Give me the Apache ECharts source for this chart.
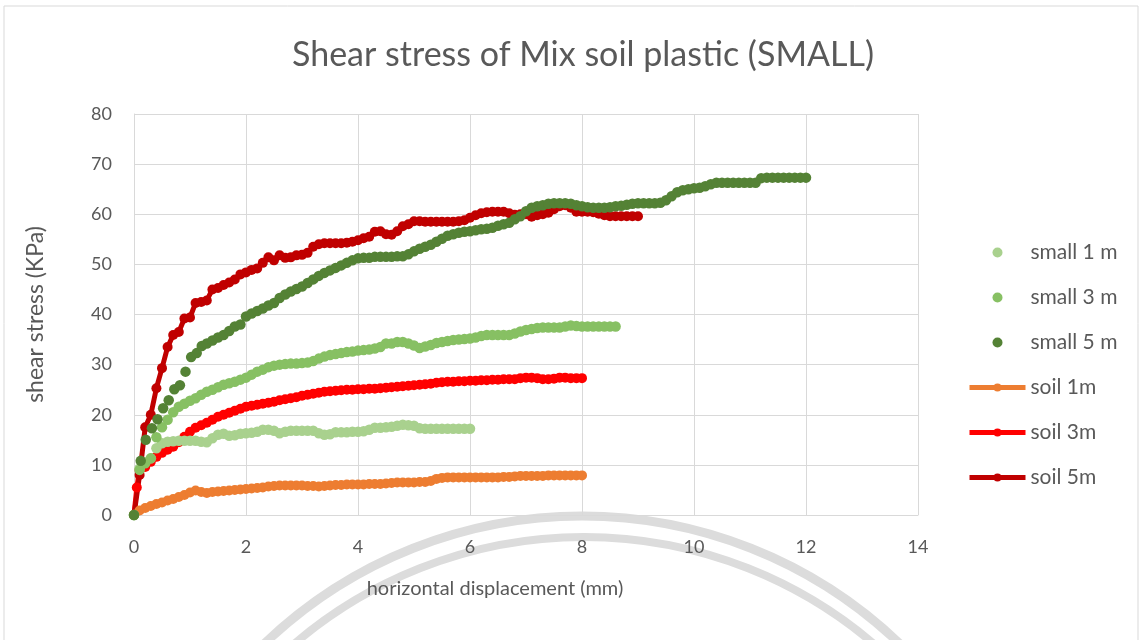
<!DOCTYPE html>
<html>
<head>
<meta charset="utf-8">
<title>Shear stress of Mix soil plastic (SMALL)</title>
<script src="https://cdn.jsdelivr.net/npm/echarts@6/dist/echarts.min.js"></script>
<style>
  html, body { margin: 0; padding: 0; background: #fff; }
  #chart { width: 1143px; height: 640px; }
</style>
</head>
<body>
<div id="chart"></div>
<script>
// horizontal displacement (mm) vs shear stress (KPa)
const xTicks = [0, 2, 4, 6, 8, 10, 12, 14];
const yTicks = [0, 10, 20, 30, 40, 50, 60, 70, 80];

const small1m = [
  [0,0],[0.1,9.3],[0.2,10.5],[0.3,11.3],[0.4,13.3],[0.5,14.3],[0.6,14.6],[0.7,14.7],[0.8,14.8],[0.9,14.8],
  [1.0,14.8],[1.1,14.8],[1.2,14.6],[1.3,14.5],[1.4,15.3],[1.5,16.0],[1.6,16.2],[1.7,15.8],[1.8,15.9],[1.9,16.2],
  [2.0,16.3],[2.1,16.4],[2.2,16.6],[2.3,17.0],[2.4,17.0],[2.5,16.8],[2.6,16.3],[2.7,16.6],[2.8,16.8],[2.9,16.8],
  [3.0,16.8],[3.1,16.8],[3.2,16.8],[3.3,16.3],[3.4,16.0],[3.5,16.1],[3.6,16.5],[3.7,16.5],[3.8,16.5],[3.9,16.6],
  [4.0,16.6],[4.1,16.7],[4.2,17.0],[4.3,17.4],[4.4,17.4],[4.5,17.5],[4.6,17.6],[4.7,17.8],[4.8,18.0],[4.9,17.9],
  [5.0,17.8],[5.1,17.3],[5.2,17.2],[5.3,17.2],[5.4,17.2],[5.5,17.2],[5.6,17.2],[5.7,17.2],[5.8,17.2],[5.9,17.2],
  [6.0,17.2]
];

const small3m = [
  [0,0],[0.1,9.0],[0.2,10.3],[0.3,11.3],[0.4,15.5],[0.5,17.5],[0.6,19.0],[0.7,20.5],[0.8,21.6],[0.9,22.2],
  [1.0,22.8],[1.1,23.3],[1.2,24.0],[1.3,24.6],[1.4,25.0],[1.5,25.5],[1.6,26.0],[1.7,26.3],[1.8,26.6],[1.9,27.0],
  [2.0,27.4],[2.1,28.0],[2.2,28.6],[2.3,29.0],[2.4,29.5],[2.5,29.8],[2.6,30.0],[2.7,30.1],[2.8,30.2],[2.9,30.2],
  [3.0,30.3],[3.1,30.4],[3.2,30.7],[3.3,31.2],[3.4,31.6],[3.5,31.9],[3.6,32.1],[3.7,32.3],[3.8,32.5],[3.9,32.6],
  [4.0,32.8],[4.1,32.9],[4.2,33.0],[4.3,33.2],[4.4,33.5],[4.5,34.2],[4.6,34.2],[4.7,34.5],[4.8,34.5],[4.9,34.2],
  [5.0,33.8],[5.1,33.3],[5.2,33.6],[5.3,33.9],[5.4,34.3],[5.5,34.5],[5.6,34.7],[5.7,34.9],[5.8,35.0],[5.9,35.1],
  [6.0,35.2],[6.1,35.4],[6.2,35.7],[6.3,35.9],[6.4,35.9],[6.5,35.9],[6.6,35.9],[6.7,35.9],[6.8,36.2],[6.9,36.6],
  [7.0,36.9],[7.1,37.1],[7.2,37.3],[7.3,37.4],[7.4,37.4],[7.5,37.4],[7.6,37.4],[7.7,37.6],[7.8,37.8],[7.9,37.7],
  [8.0,37.6],[8.1,37.6],[8.2,37.6],[8.3,37.6],[8.4,37.6],[8.5,37.6],[8.6,37.6]
];

const small5m = [
  [0,0],[0.12,10.8],[0.21,15.0],[0.32,17.3],[0.42,19.1],[0.52,21.3],[0.62,22.9],[0.72,25.1],[0.82,25.9],[0.92,28.6],
  [1.02,31.5],[1.12,32.3],[1.21,33.7],[1.3,34.2],[1.4,34.8],[1.5,35.4],[1.6,35.9],[1.7,36.7],[1.8,37.6],[1.9,38.0],
  [2.0,39.6],[2.1,40.2],[2.2,40.7],[2.3,41.2],[2.4,41.8],[2.5,42.3],[2.6,43.3],[2.7,44.0],[2.8,44.6],[2.9,45.1],
  [3.0,45.6],[3.1,46.3],[3.2,47.0],[3.3,47.7],[3.4,48.3],[3.5,48.8],[3.6,49.3],[3.7,49.8],[3.8,50.3],[3.9,50.8],
  [4.0,51.2],[4.1,51.3],[4.2,51.3],[4.3,51.5],[4.4,51.5],[4.5,51.5],[4.6,51.5],[4.7,51.6],[4.8,51.6],[4.9,52.0],
  [5.0,52.6],[5.1,53.1],[5.2,53.5],[5.3,53.9],[5.4,54.5],[5.5,55.1],[5.6,55.7],[5.7,56.0],[5.8,56.3],[5.9,56.5],
  [6.0,56.6],[6.1,56.8],[6.2,57.0],[6.3,57.1],[6.4,57.3],[6.5,57.7],[6.6,58.0],[6.7,58.3],[6.8,59.0],[6.9,59.6],
  [7.0,60.6],[7.1,61.3],[7.2,61.6],[7.3,61.8],[7.4,62.1],[7.5,62.2],[7.6,62.2],[7.7,62.2],[7.8,62.1],[7.9,61.8],
  [8.0,61.6],[8.1,61.4],[8.2,61.3],[8.3,61.3],[8.4,61.3],[8.5,61.4],[8.6,61.6],[8.7,61.7],[8.8,61.9],[8.9,62.1],
  [9.0,62.2],[9.1,62.2],[9.2,62.2],[9.3,62.2],[9.4,62.3],[9.5,62.8],[9.6,63.6],[9.7,64.4],[9.8,64.8],[9.9,65.0],
  [10.0,65.2],[10.1,65.3],[10.2,65.6],[10.3,66.0],[10.4,66.3],[10.5,66.3],[10.6,66.3],[10.7,66.3],[10.8,66.3],[10.9,66.3],
  [11.0,66.3],[11.1,66.3],[11.2,67.2],[11.3,67.3],[11.4,67.3],[11.5,67.3],[11.6,67.3],[11.7,67.3],[11.8,67.3],[11.9,67.3],
  [12.0,67.3]
];

const soil1m = [
  [0,0],[0.1,0.9],[0.2,1.4],[0.3,1.8],[0.4,2.2],[0.5,2.5],[0.6,2.9],[0.7,3.2],[0.8,3.6],[0.9,4.0],
  [1.0,4.5],[1.1,4.9],[1.2,4.6],[1.3,4.4],[1.4,4.6],[1.5,4.7],[1.6,4.8],[1.7,4.9],[1.8,5.0],[1.9,5.1],
  [2.0,5.2],[2.1,5.3],[2.2,5.4],[2.3,5.5],[2.4,5.7],[2.5,5.8],[2.6,5.9],[2.7,5.9],[2.8,5.9],[2.9,5.9],
  [3.0,5.9],[3.1,5.8],[3.2,5.8],[3.3,5.7],[3.4,5.8],[3.5,5.9],[3.6,6.0],[3.7,6.0],[3.8,6.1],[3.9,6.1],
  [4.0,6.1],[4.1,6.1],[4.2,6.2],[4.3,6.2],[4.4,6.2],[4.5,6.3],[4.6,6.4],[4.7,6.5],[4.8,6.5],[4.9,6.5],
  [5.0,6.5],[5.1,6.6],[5.2,6.6],[5.3,6.8],[5.4,7.2],[5.5,7.4],[5.6,7.5],[5.7,7.5],[5.8,7.5],[5.9,7.5],
  [6.0,7.5],[6.1,7.5],[6.2,7.5],[6.3,7.5],[6.4,7.5],[6.5,7.5],[6.6,7.6],[6.7,7.6],[6.8,7.7],[6.9,7.8],
  [7.0,7.8],[7.1,7.8],[7.2,7.8],[7.3,7.8],[7.4,7.9],[7.5,7.9],[7.6,7.9],[7.7,7.9],[7.8,7.9],[7.9,7.9],
  [8.0,7.9]
];

const soil3m = [
  [0,0],[0.05,5.5],[0.1,9.0],[0.2,9.6],[0.3,10.6],[0.4,11.6],[0.5,12.4],[0.6,13.0],[0.7,13.6],[0.8,14.5],[0.9,15.6],
  [1.0,16.6],[1.1,17.4],[1.2,17.9],[1.3,18.4],[1.4,19.0],[1.5,19.6],[1.6,20.0],[1.7,20.4],[1.8,20.8],[1.9,21.2],
  [2.0,21.6],[2.1,21.8],[2.2,22.0],[2.3,22.2],[2.4,22.4],[2.5,22.6],[2.6,22.9],[2.7,23.1],[2.8,23.3],[2.9,23.5],
  [3.0,23.8],[3.1,24.0],[3.2,24.2],[3.3,24.4],[3.4,24.6],[3.5,24.7],[3.6,24.8],[3.7,24.9],[3.8,25.0],[3.9,25.0],
  [4.0,25.1],[4.1,25.1],[4.2,25.2],[4.3,25.2],[4.4,25.3],[4.5,25.4],[4.6,25.5],[4.7,25.6],[4.8,25.7],[4.9,25.8],
  [5.0,25.9],[5.1,26.0],[5.2,26.1],[5.3,26.2],[5.4,26.4],[5.5,26.5],[5.6,26.6],[5.7,26.6],[5.8,26.7],[5.9,26.7],
  [6.0,26.8],[6.1,26.8],[6.2,26.9],[6.3,26.9],[6.4,27.0],[6.5,27.0],[6.6,27.1],[6.7,27.1],[6.8,27.1],[6.9,27.3],
  [7.0,27.4],[7.1,27.4],[7.2,27.3],[7.3,27.1],[7.4,27.1],[7.5,27.2],[7.6,27.4],[7.7,27.4],[7.8,27.3],[7.9,27.3],
  [8.0,27.3]
];

const soil5m = [
  [0,0],[0.1,8.0],[0.2,17.5],[0.3,20.0],[0.4,25.3],[0.5,29.3],[0.6,33.5],[0.7,35.9],[0.8,36.5],[0.9,39.2],
  [1.0,39.4],[1.1,42.3],[1.2,42.5],[1.3,42.8],[1.4,45.0],[1.5,45.3],[1.6,45.9],[1.7,46.4],[1.8,47.0],[1.9,48.0],
  [2.0,48.4],[2.1,48.9],[2.2,49.2],[2.3,50.3],[2.4,51.4],[2.5,50.8],[2.6,51.8],[2.7,51.3],[2.8,51.4],[2.9,51.8],
  [3.0,51.9],[3.1,52.3],[3.2,53.5],[3.3,54.0],[3.4,54.2],[3.5,54.2],[3.6,54.2],[3.7,54.2],[3.8,54.3],[3.9,54.5],
  [4.0,54.8],[4.1,55.2],[4.2,55.5],[4.3,56.5],[4.4,56.6],[4.5,56.0],[4.6,55.9],[4.7,56.6],[4.8,57.6],[4.9,58.0],
  [5.0,58.6],[5.1,58.6],[5.2,58.5],[5.3,58.5],[5.4,58.5],[5.5,58.5],[5.6,58.5],[5.7,58.5],[5.8,58.6],[5.9,58.8],
  [6.0,59.3],[6.1,59.8],[6.2,60.2],[6.3,60.4],[6.4,60.5],[6.5,60.5],[6.6,60.5],[6.7,60.2],[6.8,59.9],[6.9,60.0],
  [7.0,60.0],[7.1,59.5],[7.2,59.8],[7.3,60.0],[7.4,60.3],[7.5,61.0],[7.6,61.6],[7.7,61.8],[7.8,61.3],[7.9,60.5],
  [8.0,60.5],[8.1,60.5],[8.2,60.4],[8.3,60.1],[8.4,59.8],[8.5,59.6],[8.6,59.6],[8.7,59.6],[8.8,59.6],[8.9,59.6],
  [9.0,59.6]
];

const FONT = 'Lato, "Open Sans", sans-serif';
const TEXT = '#595959';
const GRID = '#D9D9D9';

const chart = echarts.init(document.getElementById('chart'));

function scatter(name, data, color) {
  return {
    name: name, type: 'scatter', data: data,
    symbol: 'circle', symbolSize: 10.5,
    itemStyle: { color: color, opacity: 1 },
    z: 3
  };
}
function line(name, data, color) {
  return {
    name: name, type: 'line', data: data,
    symbol: 'circle', symbolSize: 10, showAllSymbol: true,
    lineStyle: { color: color, width: 5 },
    itemStyle: { color: color },
    z: 2
  };
}

chart.setOption({
  animation: false,
  backgroundColor: '#fff',
  textStyle: { fontFamily: FONT },
  title: {
    text: 'Shear stress of Mix soil plastic (SMALL)',
    left: 578, top: 33, textAlign: 'center',
    textStyle: { color: TEXT, fontSize: 34, fontWeight: 'normal', fontFamily: FONT }
  },
  graphic: [
    { type: 'rect', z: -10, shape: { x: 4, y: 6, width: 1134, height: 640 },
      style: { fill: 'none', stroke: GRID, lineWidth: 1 } },
    { type: 'arc', z: -5, shape: { cx: 582, cy: 975, r: 459 },
      style: { fill: 'none', stroke: '#DCDCDC', lineWidth: 9 } },
    { type: 'arc', z: -5, shape: { cx: 584, cy: 983, r: 446 },
      style: { fill: 'none', stroke: '#DCDCDC', lineWidth: 8 } }
  ],
  legend: {
    orient: 'vertical', left: 962, top: 237,
    itemWidth: 56, itemHeight: 10, itemGap: 24,
    textStyle: { color: TEXT, fontSize: 21, fontFamily: FONT },
    data: [
      { name: 'small 1 m', icon: 'circle' },
      { name: 'small 3 m', icon: 'circle' },
      { name: 'small 5 m', icon: 'circle' },
      { name: 'soil 1m', lineStyle: { width: 5 } },
      { name: 'soil 3m', lineStyle: { width: 5 } },
      { name: 'soil 5m', lineStyle: { width: 5 } }
    ]
  },
  grid: { left: 134, right: 225, top: 114, bottom: 125 },
  xAxis: {
    type: 'value', min: xTicks[0], max: xTicks[xTicks.length - 1], interval: 2,
    name: 'horizontal displacement (mm)', nameLocation: 'middle', nameGap: 64,
    nameTextStyle: { color: TEXT, fontSize: 20, fontFamily: FONT, padding: [0, 62, 0, 0] },
    axisLine: { show: true, lineStyle: { color: GRID } },
    axisTick: { show: false },
    axisLabel: { color: TEXT, fontSize: 18, margin: 23, fontFamily: FONT },
    splitLine: { show: true, lineStyle: { color: GRID, width: 1 } }
  },
  yAxis: {
    type: 'value', min: yTicks[0], max: yTicks[yTicks.length - 1], interval: 10,
    name: 'shear stress (KPa)', nameLocation: 'middle', nameGap: 87,
    nameTextStyle: { color: TEXT, fontSize: 23, fontFamily: FONT },
    axisLine: { show: true, lineStyle: { color: GRID } },
    axisTick: { show: false },
    axisLabel: { color: TEXT, fontSize: 18, margin: 22, fontFamily: FONT },
    splitLine: { show: true, lineStyle: { color: GRID, width: 1 } }
  },
  series: [
    line('soil 1m', soil1m, '#ED7D31'),
    line('soil 3m', soil3m, '#FF0000'),
    line('soil 5m', soil5m, '#C00000'),
    scatter('small 1 m', small1m, '#A9D18E'),
    scatter('small 3 m', small3m, '#87C063'),
    scatter('small 5 m', small5m, '#548235')
  ]
});
</script>
</body>
</html>
